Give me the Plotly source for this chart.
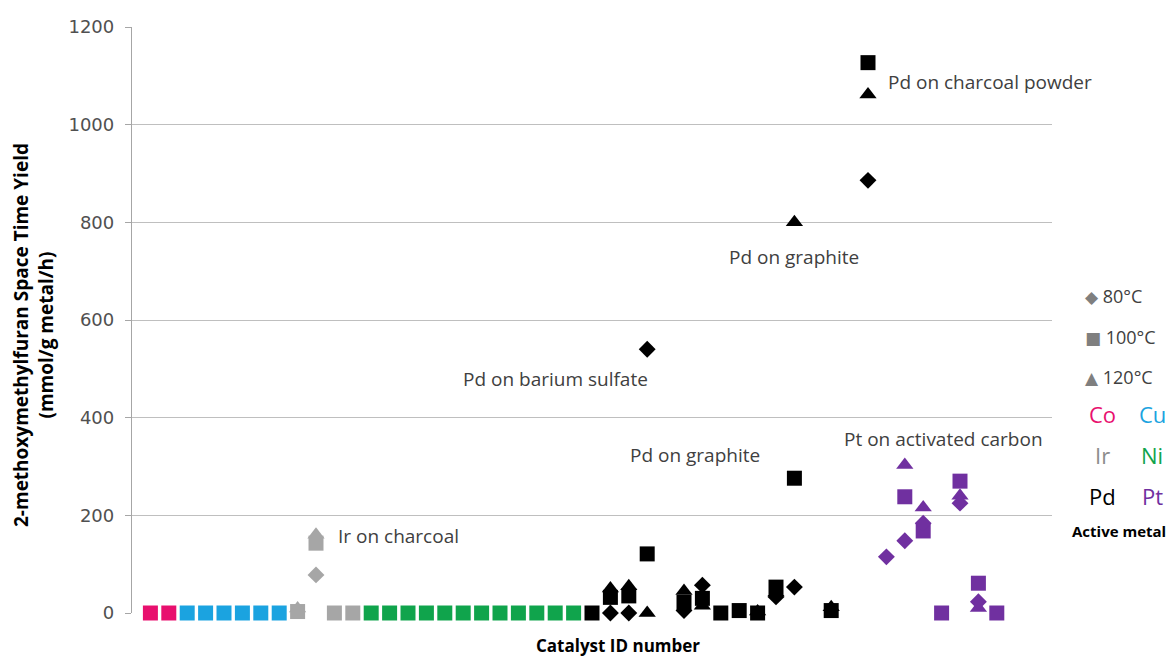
import plotly.graph_objects as go

# ---- data: catalyst ID numbers and space-time yields (mmol/g metal/h) ----
co_100_ids = [1, 2]
co_100_vals = [0, 0]

cu_100_ids = [3, 4, 5, 6, 7, 8]
cu_100_vals = [0, 0, 0, 0, 0, 0]

ir_80_ids = [10]
ir_80_vals = [78]
ir_100_ids = [9, 10, 11, 12]
ir_100_vals = [3, 143, 0, 0]
ir_120_ids = [9, 10]
ir_120_vals = [9, 160]

ni_100_ids = [13, 14, 15, 16, 17, 18, 19, 20, 21, 22, 23, 24]
ni_100_vals = [0, 0, 0, 0, 0, 0, 0, 0, 0, 0, 0, 0]

pd_80_ids = [26, 27, 28, 30, 31, 35, 36, 40]
pd_80_vals = [0, 0, 540, 5, 57, 33, 53, 886]
pd_100_ids = [25, 26, 27, 28, 30, 31, 32, 33, 34, 35, 36, 38, 40]
pd_100_vals = [0, 32, 35, 121, 22, 30, 0, 5, 0, 53, 276, 5, 1127]
pd_120_ids = [26, 27, 28, 30, 31, 34, 35, 36, 38, 40]
pd_120_vals = [50, 55, 0, 45, 15, 3, 42, 800, 12, 1062]

pt_80_ids = [41, 42, 43, 45, 46]
pt_80_vals = [115, 148, 184, 225, 23]
pt_100_ids = [42, 43, 44, 45, 46, 47]
pt_100_vals = [238, 168, 0, 270, 61, 0]
pt_120_ids = [42, 43, 45, 46]
pt_120_vals = [303, 216, 240, 10]

y_ticks = [0, 200, 400, 600, 800, 1000, 1200]

COL = {"Co": "#E8106E", "Cu": "#1BA3E0", "Ir": "#A6A6A6", "Ni": "#10A44C",
       "Pd": "#000000", "Pt": "#7030A0"}
SYM = {80: ("diamond", 13), 100: ("square", 15), 120: ("triangle-up", 15)}

series = [
    ("Co", 100, co_100_ids, co_100_vals),
    ("Cu", 100, cu_100_ids, cu_100_vals),
    ("Ni", 100, ni_100_ids, ni_100_vals),
    ("Ir", 100, ir_100_ids, ir_100_vals),
    ("Ir", 120, ir_120_ids, ir_120_vals),
    ("Ir", 80, ir_80_ids, ir_80_vals),
    ("Pd", 100, pd_100_ids, pd_100_vals),
    ("Pd", 120, pd_120_ids, pd_120_vals),
    ("Pd", 80, pd_80_ids, pd_80_vals),
    ("Pt", 100, pt_100_ids, pt_100_vals),
    ("Pt", 120, pt_120_ids, pt_120_vals),
    ("Pt", 80, pt_80_ids, pt_80_vals),
]

fig = go.Figure()
for metal, temp, ids, vals in series:
    sym, size = SYM[temp]
    fig.add_trace(go.Scatter(
        x=ids, y=vals, mode="markers", name=f"{metal} {temp}°C",
        marker=dict(symbol=sym, size=size, color=COL[metal], line=dict(width=0)),
        showlegend=False, cliponaxis=False))

FONT = "Open Sans, DejaVu Sans, sans-serif"
TXT = "#404040"

W, H = 1175, 657
L, R, T, B = 132, 123, 27, 44

fig.update_layout(
    width=W, height=H,
    margin=dict(l=L, r=R, t=T, b=B, autoexpand=False),
    paper_bgcolor="white", plot_bgcolor="white",
    font=dict(family=FONT, color=TXT, size=16),
    xaxis=dict(range=[0, 50], showticklabels=False, showgrid=False, zeroline=False,
               showline=False, ticks=""),
    yaxis=dict(range=[0, 1200], tickvals=y_ticks, showgrid=True, gridcolor="#BFBFBF",
               gridwidth=1.3, zeroline=False, showline=True, linecolor="#A6A6A6",
               linewidth=1.3, ticks="outside", ticklen=6, tickcolor="#A6A6A6",
               automargin=False, ticklabelstandoff=7,
               tickfont=dict(family="DejaVu Sans, Verdana, sans-serif", size=18, color="#505050")),
)

ann = []
def note(text, x, y, xanchor="center", size=19):
    ann.append(dict(text=text, x=x, y=y, xref="x", yref="y", xanchor=xanchor,
                    yanchor="middle", showarrow=False,
                    font=dict(family=FONT, size=size, color=TXT)))

# data labels
note("Pd on charcoal powder", 41.0, 1088, xanchor="left")
note("Pd on graphite", 36.0, 728)
note("Pd on barium sulfate", 23.0, 480)
note("Pd on graphite", 30.6, 323)
note("Pt on activated carbon", 44.1, 357)
note("Ir on charcoal", 11.1, 158, xanchor="left")

def px(xp):
    return (xp - L) / (W - L - R)
def py(yp):
    return (H - B - yp) / (H - T - B)

# axis titles
ann.append(dict(text="<b>2-methoxymethylfuran Space Time Yield<br>(mmol/g metal/h)</b>",
                x=px(33), y=py(335), xref="paper", yref="paper", textangle=-90,
                showarrow=False, xanchor="center", yanchor="middle",
                font=dict(family=FONT, size=19, color="#000000")))
ann.append(dict(text="<b>Catalyst ID number</b>", x=px(618), y=py(645), xref="paper",
                yref="paper", showarrow=False, xanchor="center", yanchor="middle",
                font=dict(family=FONT, size=17, color="#000000")))

# custom legend (right side)
for yp, glyph, lab in [(296, "◆", "80°C"), (337, "■", "100°C"), (377, "▲", "120°C")]:
    ann.append(dict(text=f"<span style='color:#7F7F7F;font-size:17px'>{glyph}</span> {lab}",
                    x=px(1083), y=py(yp), xref="paper", yref="paper", xanchor="left",
                    yanchor="middle", showarrow=False,
                    font=dict(family=FONT, size=18, color=TXT)))
for yp, m1, m2 in [(414, "Co", "Cu"), (455, "Ir", "Ni"), (496, "Pd", "Pt")]:
    ann.append(dict(text=m1, x=px(1102), y=py(yp), xref="paper", yref="paper",
                    xanchor="center", yanchor="middle", showarrow=False,
                    font=dict(family=FONT, size=22, color=COL[m1] if m1 != "Ir" else "#8C8C8C")))
    ann.append(dict(text=m2, x=px(1152), y=py(yp), xref="paper", yref="paper",
                    xanchor="center", yanchor="middle", showarrow=False,
                    font=dict(family=FONT, size=22, color=COL[m2])))
ann.append(dict(text="<b>Active metal</b>", x=px(1119), y=py(531), xref="paper",
                yref="paper", xanchor="center", yanchor="middle", showarrow=False,
                font=dict(family=FONT, size=15, color="#000000")))

fig.update_layout(annotations=ann)
fig.write_html("out.html", config={"displayModeBar": False},
               post_script="document.body.style.margin='0';")
